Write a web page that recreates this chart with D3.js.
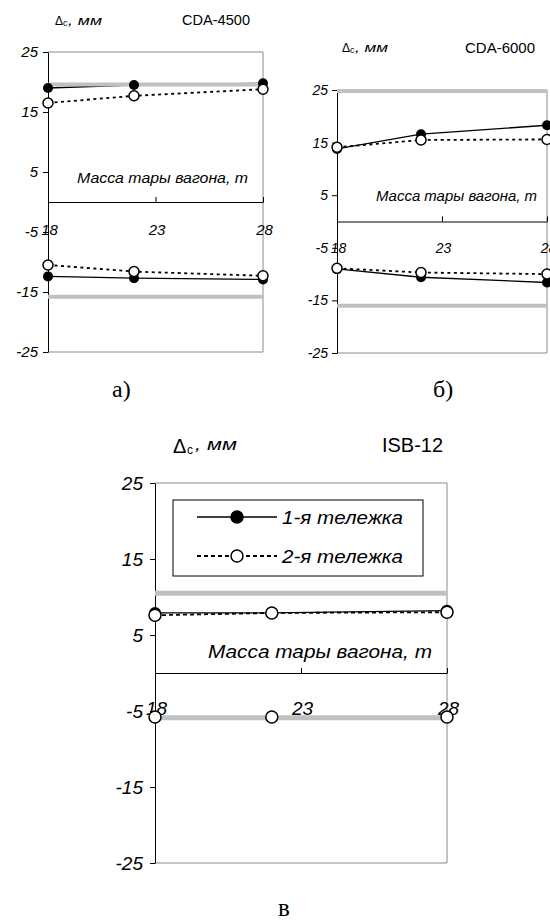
<!DOCTYPE html>
<html>
<head>
<meta charset="utf-8">
<script src="https://cdn.jsdelivr.net/npm/d3@7"></script>
<style>
  html, body { margin: 0; padding: 0; background: #fff; }
  svg { display: block; }
</style>
</head>
<body>
<svg id="chart" width="550" height="922"></svg>
<script>
// --- data ---
const massX = [18, 22, 28];           // тара вагона, т
const xTicks = [18, 23, 28];
const yTicks = [25, 15, 5, -5, -15, -25];
const seriesNames = ['1-я тележка', '2-я тележка'];

// CDA-4500
const cda4500Up1 = [19.0, 19.5, 19.8];
const cda4500Up2 = [16.5, 17.7, 18.8];
const cda4500Lo1 = [-12.4, -12.7, -12.9];
const cda4500Lo2 = [-10.5, -11.6, -12.3];
const cda4500Limits = [19.6, -15.8];

// CDA-6000
const cda6000Up1 = [13.8, 16.6, 18.3];
const cda6000Up2 = [14.1, 15.5, 15.6];
const cda6000Lo1 = [-9.0, -10.6, -11.6];
const cda6000Lo2 = [-8.9, -9.7, -10.0];
const cda6000Limits = [24.8, -16.0];

// ISB-12
const isb12Up1 = [7.9, 7.9, 8.2];
const isb12Up2 = [7.6, 7.9, 8.0];
const isb12Lo1 = [-5.8, -5.8, -5.8];
const isb12Lo2 = [-5.8, -5.8, -5.8];
const isb12Limits = [10.5, -5.9];

const svg = d3.select('#chart');
const SANS = "'Liberation Sans', Arial, sans-serif";
const SERIF = "'Liberation Serif', 'Times New Roman', serif";
const GREY = '#c0c0c0';

function drawPanel(p) {
  const g = svg.append('g');
  const x = d3.scaleLinear().domain([18, 28]).range([p.x0, p.x1]);
  const y = d3.scaleLinear().domain([-25, 25]).range([p.yBot, p.yTop]);

  // frame: grey top/right/bottom, black left axis
  g.append('path')
    .attr('d', `M${p.x0},${y(25)}H${p.x1}V${y(-25)}H${p.x0}`)
    .attr('fill', 'none').attr('stroke', '#8a8a8a').attr('stroke-width', 1);

  const yAxis = g.append('g')
    .attr('transform', `translate(${p.x0},0)`)
    .call(d3.axisLeft(y).tickValues(yTicks).tickSize(5).tickSizeOuter(0).tickFormat(d => d));
  yAxis.select('.domain').attr('stroke', '#000');
  yAxis.selectAll('.tick line').attr('stroke', '#000');
  yAxis.selectAll('.tick text')
    .attr('x', -p.labelGap)
    .attr('dx', 5)
    .attr('font-family', SANS).attr('font-style', 'italic')
    .attr('font-size', p.tick).attr('fill', '#000');

  // x axis at zero, ticks pointing up, labels below
  const xAxis = g.append('g')
    .attr('transform', `translate(0,${y(0)})`)
    .call(d3.axisTop(x).tickValues(xTicks).tickSize(5).tickSizeOuter(0).tickFormat(d => d));
  xAxis.select('.domain').attr('stroke', '#000');
  xAxis.selectAll('.tick line').attr('stroke', '#000');
  xAxis.selectAll('.tick text')
    .attr('y', p.xLabelDy).attr('dy', 0).attr('x', 1)
    .attr('font-family', SANS).attr('font-style', 'italic')
    .attr('font-size', p.tick).attr('fill', '#000');

  const line = d3.line().x((d, i) => x(massX[i])).y(d => y(d));
  const groups = [[p.up1, p.up2], [p.lo1, p.lo2]];

  groups.forEach(([s1, s2]) => {
    g.append('path').attr('d', line(s2)).attr('fill', 'none')
      .attr('stroke', '#000').attr('stroke-width', 1.8).attr('stroke-dasharray', p.dash);
    g.append('path').attr('d', line(s1)).attr('fill', 'none')
      .attr('stroke', '#000').attr('stroke-width', 1.3);
  });

  // limit lines
  p.limits.forEach(v => {
    g.append('line')
      .attr('x1', p.x0).attr('x2', p.x1).attr('y1', y(v)).attr('y2', y(v))
      .attr('stroke', GREY).attr('stroke-width', p.greyW);
  });

  groups.forEach(([s1, s2]) => {
    g.selectAll(null).data(s1).join('circle')
      .attr('cx', (d, i) => x(massX[i])).attr('cy', d => y(d)).attr('r', p.r)
      .attr('fill', '#000');
    g.selectAll(null).data(s2).join('circle')
      .attr('cx', (d, i) => x(massX[i])).attr('cy', d => y(d)).attr('r', p.r)
      .attr('fill', '#fff').attr('stroke', '#000').attr('stroke-width', 1.5);
  });

  // Δc, мм
  const d = p.delta;
  g.append('text').attr('x', d.x).attr('y', d.y).text('Δ')
    .attr('font-family', SANS).attr('font-size', d.s1);
  g.append('text').attr('x', d.xc).attr('y', d.y + d.sub).text('c')
    .attr('font-family', SANS).attr('font-size', d.s2);
  g.append('text').attr('x', d.xm).attr('y', d.ym).text(', мм')
    .attr('font-family', SANS).attr('font-style', 'italic').attr('font-size', d.s3)
    .attr('textLength', d.wm).attr('lengthAdjust', 'spacingAndGlyphs');

  g.append('text').attr('x', p.title.x).attr('y', p.title.y).text(p.title.text)
    .attr('font-family', SANS).attr('font-size', p.title.s)
    .attr('textLength', p.title.w).attr('lengthAdjust', 'spacingAndGlyphs');

  g.append('text').attr('x', p.mass.x).attr('y', p.mass.y).text('Масса тары вагона, т')
    .attr('font-family', SANS).attr('font-style', 'italic').attr('font-size', p.mass.s)
    .attr('textLength', p.mass.w).attr('lengthAdjust', 'spacingAndGlyphs');

  g.append('text').attr('x', p.caption.x).attr('y', p.caption.y).text(p.caption.text)
    .attr('font-family', SERIF).attr('font-size', p.caption.s);

  if (p.legend) {
    const L = p.legend;
    g.append('rect').attr('x', L.x).attr('y', L.y).attr('width', L.w).attr('height', L.h)
      .attr('fill', '#fff').attr('stroke', '#000').attr('stroke-width', 1);
    seriesNames.forEach((name, i) => {
      const ry = L.rows[i];
      g.append('line').attr('x1', L.lx0).attr('x2', L.lx1).attr('y1', ry).attr('y2', ry)
        .attr('stroke', '#000').attr('stroke-width', i ? 1.8 : 1.3)
        .attr('stroke-dasharray', i ? p.dash : null);
      g.append('circle').attr('cx', (L.lx0 + L.lx1) / 2).attr('cy', ry).attr('r', p.r)
        .attr('fill', i ? '#fff' : '#000').attr('stroke', '#000').attr('stroke-width', 1.5);
      g.append('text').attr('x', L.tx).attr('y', ry + 7).text(name)
        .attr('font-family', SANS).attr('font-style', 'italic').attr('font-size', L.s)
        .attr('textLength', L.tw).attr('lengthAdjust', 'spacingAndGlyphs');
    });
  }
}

drawPanel({
  x0: 48, x1: 263, yTop: 52, yBot: 352, tick: 15, labelGap: 15, xLabelDy: 33,
  r: 5, greyW: 4, dash: '3,3.5',
  up1: cda4500Up1, up2: cda4500Up2, lo1: cda4500Lo1, lo2: cda4500Lo2, limits: cda4500Limits,
  delta: { x: 55, xc: 63, xm: 68, y: 25, ym: 25, sub: 1, s1: 12, s2: 9, s3: 13, wm: 34 },
  title: { text: 'CDA-4500', x: 182, y: 25, s: 15, w: 68 },
  mass: { x: 77, y: 183, s: 15, w: 171 },
  caption: { text: 'а)', x: 112, y: 397, s: 24 }
});

drawPanel({
  x0: 337, x1: 547, yTop: 90, yBot: 353, tick: 14, labelGap: 14, xLabelDy: 31,
  r: 5, greyW: 4, dash: '3,3.5',
  up1: cda6000Up1, up2: cda6000Up2, lo1: cda6000Lo1, lo2: cda6000Lo2, limits: cda6000Limits,
  delta: { x: 342, xc: 350, xm: 355, y: 52, ym: 52, sub: 1, s1: 12, s2: 9, s3: 13, wm: 33 },
  title: { text: 'CDA-6000', x: 465, y: 53, s: 15, w: 70 },
  mass: { x: 376, y: 201, s: 14, w: 161 },
  caption: { text: 'б)', x: 433, y: 397, s: 24 }
});

drawPanel({
  x0: 155, x1: 447, yTop: 483, yBot: 863, tick: 19, labelGap: 17, xLabelDy: 42,
  r: 6, greyW: 5, dash: '4,3',
  up1: isb12Up1, up2: isb12Up2, lo1: isb12Lo1, lo2: isb12Lo2, limits: isb12Limits,
  delta: { x: 173, xc: 187, xm: 195, y: 453, ym: 450, sub: 1, s1: 20, s2: 12, s3: 17, wm: 42 },
  title: { text: 'ISB-12', x: 382, y: 452, s: 20, w: 61 },
  mass: { x: 208, y: 658, s: 19, w: 224 },
  caption: { text: 'в', x: 278, y: 916, s: 25 },
  legend: { x: 173, y: 500, w: 250, h: 76, lx0: 197, lx1: 277, tx: 282, tw: 121, s: 19, rows: [517, 556] }
});
</script>
</body>
</html>
